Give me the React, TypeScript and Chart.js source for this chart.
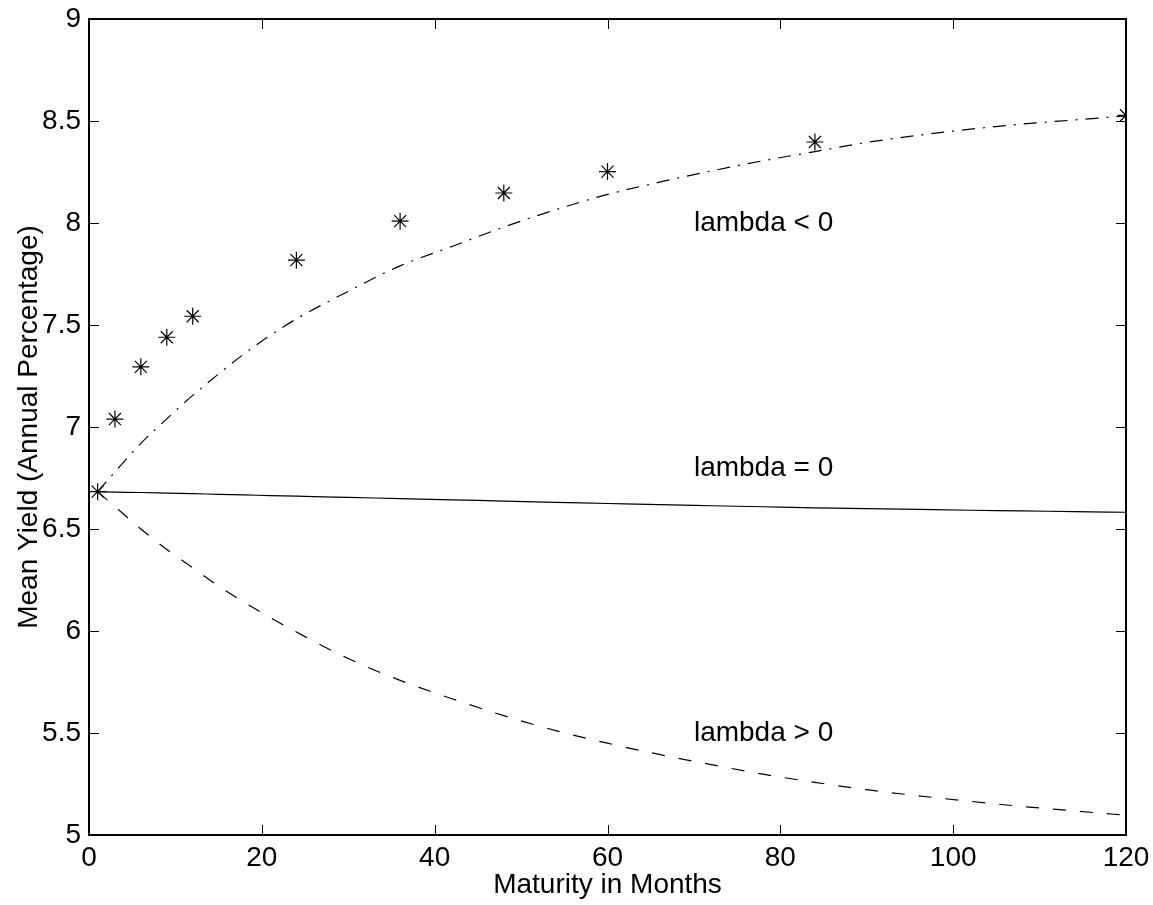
import React, { useEffect, useRef } from "react";
import { Chart, registerables } from "chart.js";

Chart.register(...registerables);

// Observed mean yields (asterisks)
const maturities = [1, 3, 6, 9, 12, 24, 36, 48, 60, 84, 120];
const meanYields = [6.683, 7.039, 7.295, 7.44, 7.543, 7.818, 8.009, 8.147, 8.252, 8.397, 8.528];

// Model curves
const curveMaturities = [1, 3, 6, 9, 12, 15, 18, 21, 24, 30, 36, 42, 48, 54, 60, 66, 72, 78, 84, 90, 96, 102, 108, 114, 120];
const yieldLambdaNeg = [6.683, 6.78, 6.92, 7.04, 7.155, 7.26, 7.36, 7.45, 7.53, 7.665, 7.79, 7.885, 7.98, 8.065, 8.14, 8.2, 8.255, 8.305, 8.35, 8.395, 8.43, 8.46, 8.485, 8.505, 8.525];
const yieldLambdaZero = [6.683, 6.681, 6.679, 6.676, 6.673, 6.67, 6.667, 6.664, 6.661, 6.655, 6.649, 6.643, 6.637, 6.631, 6.625, 6.619, 6.614, 6.609, 6.604, 6.6, 6.596, 6.592, 6.589, 6.585, 6.582];
const yieldLambdaPos = [6.683, 6.61, 6.5, 6.4, 6.31, 6.22, 6.14, 6.065, 5.995, 5.865, 5.758, 5.668, 5.585, 5.512, 5.45, 5.395, 5.345, 5.298, 5.258, 5.222, 5.192, 5.165, 5.14, 5.118, 5.097];

const annotationTexts = ["lambda < 0", "lambda = 0", "lambda > 0"];
const annotationX = [70, 70, 70];
const annotationY = [8.0, 6.8, 5.5];

const xAxisTitle = "Maturity in Months";
const yAxisTitle = "Mean Yield (Annual Percentage)";

const FONT_FAMILY = '"Liberation Sans", Arial, Helvetica, sans-serif';
const FONT_SIZE = 28;

const toPoints = (xs: number[], ys: number[]) => xs.map((x, i) => ({ x, y: ys[i] }));

const framePlugin = {
  id: "matlabFrame",
  afterDraw(chart: any) {
    const { ctx, chartArea } = chart;
    const xs = chart.scales.x;
    const ys = chart.scales.y;
    const { left, right, top, bottom } = chartArea;
    ctx.save();
    // ticks (inward, all four sides)
    ctx.strokeStyle = "#000";
    ctx.lineWidth = 1;
    const tl = 10;
    ctx.beginPath();
    xs.ticks.forEach((t: any) => {
      const px = Math.round(xs.getPixelForValue(t.value)) + 0.5;
      ctx.moveTo(px, bottom);
      ctx.lineTo(px, bottom - tl);
      ctx.moveTo(px, top);
      ctx.lineTo(px, top + tl);
    });
    ys.ticks.forEach((t: any) => {
      const py = Math.round(ys.getPixelForValue(t.value)) + 0.5;
      ctx.moveTo(left, py);
      ctx.lineTo(left + tl, py);
      ctx.moveTo(right, py);
      ctx.lineTo(right - tl, py);
    });
    ctx.stroke();
    // box
    ctx.lineWidth = 2;
    ctx.strokeRect(left, top, right - left, bottom - top);
    // annotations
    ctx.fillStyle = "#000";
    ctx.font = `${FONT_SIZE}px ${FONT_FAMILY}`;
    ctx.textAlign = "left";
    ctx.textBaseline = "middle";
    annotationTexts.forEach((txt, i) => {
      ctx.fillText(txt, xs.getPixelForValue(annotationX[i]), ys.getPixelForValue(annotationY[i]));
    });
    ctx.restore();
  },
};

export default function App() {
  const canvasRef = useRef<HTMLCanvasElement | null>(null);

  useEffect(() => {
    if (!canvasRef.current) return;
    const font = { family: FONT_FAMILY, size: FONT_SIZE };
    const chart = new Chart(canvasRef.current, {
      type: "scatter",
      data: {
        datasets: [
          {
            label: "lambda < 0",
            data: toPoints(curveMaturities, yieldLambdaNeg),
            showLine: true,
            borderColor: "#000",
            borderWidth: 1.2,
            borderDash: [13, 8, 2, 8],
            pointRadius: 0,
            cubicInterpolationMode: "monotone",
          },
          {
            label: "lambda = 0",
            data: toPoints(curveMaturities, yieldLambdaZero),
            showLine: true,
            borderColor: "#000",
            borderWidth: 1.2,
            pointRadius: 0,
            cubicInterpolationMode: "monotone",
          },
          {
            label: "lambda > 0",
            data: toPoints(curveMaturities, yieldLambdaPos),
            showLine: true,
            borderColor: "#000",
            borderWidth: 1.2,
            borderDash: [13, 14],
            pointRadius: 0,
            cubicInterpolationMode: "monotone",
          },
          {
            label: "Mean yield",
            data: toPoints(maturities, meanYields),
            showLine: false,
            pointStyle: "star",
            pointRadius: 8.5,
            pointBorderWidth: 1.2,
            pointBorderColor: "#000",
            pointBackgroundColor: "#000",
          },
        ],
      },
      options: {
        responsive: false,
        animation: false,
        events: [],
        layout: { padding: { top: 19, right: 27, bottom: 0, left: 0 } },
        plugins: {
          legend: { display: false },
          tooltip: { enabled: false },
        },
        scales: {
          x: {
            type: "linear",
            min: 0,
            max: 120,
            grid: { display: false, drawTicks: false },
            border: { display: false },
            ticks: { stepSize: 20, color: "#000", font, padding: 6, maxRotation: 0, callback: (v: any) => `${v}` },
            title: {
              display: true,
              text: xAxisTitle,
              color: "#000",
              font,
              padding: { top: 0, bottom: 3 },
            },
            afterFit: (s: any) => {
              s.height = 70;
              s.paddingLeft = 0;
              s.paddingRight = 0;
              s.paddingTop = 0;
              s.paddingBottom = 0;
            },
          },
          y: {
            type: "linear",
            min: 5,
            max: 9,
            grid: { display: false, drawTicks: false },
            border: { display: false },
            ticks: { stepSize: 0.5, color: "#000", font, padding: 8, callback: (v: any) => `${v}` },
            title: {
              display: true,
              text: yAxisTitle,
              color: "#000",
              font,
              padding: { top: 12, bottom: 0 },
            },
            afterFit: (s: any) => {
              s.width = 89;
              s.paddingLeft = 0;
              s.paddingRight = 0;
              s.paddingTop = 0;
              s.paddingBottom = 0;
            },
          },
        },
      },
      plugins: [framePlugin],
    } as any);
    return () => chart.destroy();
  }, []);

  return (
    <canvas
      ref={canvasRef}
      width={1153}
      height={905}
      style={{ position: "absolute", left: 0, top: 0, width: 1153, height: 905, background: "#fff" }}
    />
  );
}
